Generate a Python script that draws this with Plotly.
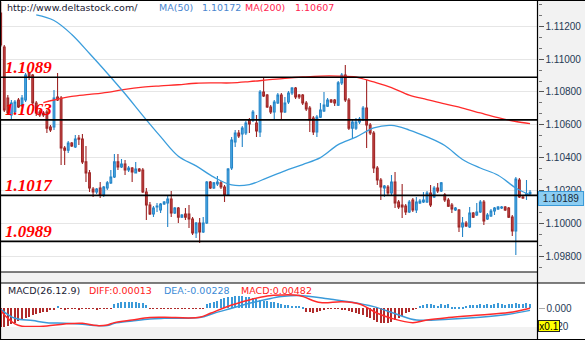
import plotly.graph_objects as go

W, H = 585, 340

# ---- price data (hourly candles) ----
opens = [
    1.11281, 1.11074, 1.10763, 1.10660, 1.10678, 1.10751, 1.10720, 1.10751, 1.10916, 1.10903,
    1.10733, 1.10678, 1.10672, 1.10678, 1.10587, 1.10587, 1.10769, 1.10763, 1.10459, 1.10446,
    1.10489, 1.10465, 1.10520, 1.10513, 1.10374, 1.10307, 1.10209, 1.10191, 1.10215, 1.10173,
    1.10215, 1.10246, 1.10282, 1.10374, 1.10343, 1.10361, 1.10325, 1.10337, 1.10307, 1.10331,
    1.10325, 1.10191, 1.10112, 1.10057, 1.10099, 1.10081, 1.10118, 1.10124, 1.10148, 1.10063,
    1.10093, 1.10038, 1.10057, 1.10057, 1.10026, 1.09941, 1.10002, 1.09947, 1.10002, 1.10252,
    1.10215, 1.10240, 1.10246, 1.10221, 1.10173, 1.10337, 1.10495, 1.10550, 1.10544, 1.10550,
    1.10629, 1.10629, 1.10611, 1.10556, 1.10800, 1.10781, 1.10708, 1.10678, 1.10733, 1.10781,
    1.10678, 1.10739, 1.10794, 1.10824, 1.10781, 1.10781, 1.10733, 1.10702, 1.10641, 1.10556,
    1.10647, 1.10684, 1.10714, 1.10751, 1.10751, 1.10720, 1.10855, 1.10903, 1.10751, 1.10580,
    1.10580, 1.10617, 1.10629, 1.10702, 1.10599, 1.10550, 1.10337, 1.10264, 1.10215, 1.10221,
    1.10185, 1.10252, 1.10130, 1.10112, 1.10105, 1.10069, 1.10142, 1.10081, 1.10124, 1.10130,
    1.10130, 1.10185, 1.10160, 1.10215, 1.10197, 1.10173, 1.10142, 1.10112, 1.10081, 1.10081,
    1.09978, 1.10002, 1.09978, 1.10063, 1.10051, 1.10069, 1.10130, 1.10026, 1.10045, 1.10075,
    1.10087, 1.10093, 1.10099, 1.10093, 1.10038, 1.09953, 1.10264, 1.10160, 1.10173, 1.10179,
]
highs = [
    1.11348, 1.11086, 1.10781, 1.10751, 1.10751, 1.10763, 1.10781, 1.10916, 1.10922, 1.10909,
    1.10745, 1.10690, 1.10684, 1.10690, 1.10599, 1.10812, 1.10916, 1.10775, 1.10471, 1.10501,
    1.10495, 1.10538, 1.10538, 1.10544, 1.10471, 1.10325, 1.10221, 1.10215, 1.10252, 1.10227,
    1.10258, 1.10325, 1.10422, 1.10422, 1.10392, 1.10386, 1.10349, 1.10343, 1.10374, 1.10337,
    1.10337, 1.10215, 1.10130, 1.10105, 1.10124, 1.10124, 1.10136, 1.10173, 1.10197, 1.10099,
    1.10099, 1.10057, 1.10093, 1.10112, 1.10038, 1.10008, 1.10032, 1.10038, 1.10258, 1.10258,
    1.10252, 1.10288, 1.10258, 1.10234, 1.10337, 1.10526, 1.10568, 1.10568, 1.10593, 1.10623,
    1.10641, 1.10690, 1.10660, 1.10812, 1.10885, 1.10788, 1.10720, 1.10751, 1.10794, 1.10794,
    1.10769, 1.10806, 1.10830, 1.10830, 1.10788, 1.10788, 1.10745, 1.10714, 1.10654, 1.10660,
    1.10733, 1.10800, 1.10763, 1.10757, 1.10757, 1.10867, 1.10916, 1.10964, 1.10763, 1.10629,
    1.10641, 1.10647, 1.10714, 1.10873, 1.10611, 1.10562, 1.10349, 1.10276, 1.10234, 1.10234,
    1.10294, 1.10313, 1.10142, 1.10240, 1.10118, 1.10142, 1.10154, 1.10160, 1.10148, 1.10191,
    1.10197, 1.10234, 1.10227, 1.10246, 1.10252, 1.10185, 1.10154, 1.10124, 1.10099, 1.10087,
    1.10038, 1.10014, 1.10099, 1.10069, 1.10124, 1.10142, 1.10142, 1.10063, 1.10087, 1.10099,
    1.10105, 1.10105, 1.10105, 1.10099, 1.10051, 1.10282, 1.10276, 1.10167, 1.10264, 1.10203,
]
lows = [
    1.11074, 1.10678, 1.10660, 1.10629, 1.10666, 1.10702, 1.10708, 1.10739, 1.10873, 1.10714,
    1.10654, 1.10647, 1.10647, 1.10550, 1.10556, 1.10568, 1.10745, 1.10355, 1.10355, 1.10428,
    1.10465, 1.10459, 1.10477, 1.10361, 1.10252, 1.10191, 1.10160, 1.10179, 1.10154, 1.10160,
    1.10203, 1.10240, 1.10276, 1.10325, 1.10337, 1.10294, 1.10313, 1.10252, 1.10307, 1.10313,
    1.10185, 1.10020, 1.10051, 1.10038, 1.10069, 1.10063, 1.10112, 1.09978, 1.10038, 1.10057,
    1.10002, 1.10032, 1.10020, 1.09971, 1.09929, 1.09911, 1.09880, 1.09941, 1.09996, 1.10209,
    1.10209, 1.10227, 1.10209, 1.10130, 1.10167, 1.10325, 1.10465, 1.10520, 1.10465, 1.10538,
    1.10550, 1.10617, 1.10526, 1.10526, 1.10769, 1.10702, 1.10666, 1.10629, 1.10727, 1.10629,
    1.10672, 1.10727, 1.10781, 1.10757, 1.10757, 1.10720, 1.10684, 1.10556, 1.10538, 1.10526,
    1.10641, 1.10678, 1.10708, 1.10733, 1.10714, 1.10714, 1.10842, 1.10739, 1.10568, 1.10520,
    1.10568, 1.10605, 1.10623, 1.10459, 1.10538, 1.10307, 1.10234, 1.10142, 1.10160, 1.10173,
    1.10173, 1.10093, 1.10087, 1.10032, 1.10051, 1.10063, 1.10069, 1.10063, 1.10118, 1.10124,
    1.10124, 1.10099, 1.10154, 1.10185, 1.10191, 1.10130, 1.10099, 1.10063, 1.10075, 1.09947,
    1.09917, 1.09978, 1.09971, 1.10032, 1.10045, 1.10063, 1.09990, 1.10020, 1.10038, 1.10051,
    1.10081, 1.10087, 1.10075, 1.10032, 1.09923, 1.09807, 1.10154, 1.10148, 1.10142, 1.10173,
]
closes = [
    1.11086, 1.10690, 1.10672, 1.10733, 1.10739, 1.10708, 1.10763, 1.10903, 1.10891, 1.10733,
    1.10672, 1.10660, 1.10660, 1.10580, 1.10568, 1.10763, 1.10751, 1.10459, 1.10446, 1.10489,
    1.10471, 1.10513, 1.10513, 1.10374, 1.10307, 1.10215, 1.10191, 1.10209, 1.10173, 1.10221,
    1.10246, 1.10282, 1.10374, 1.10343, 1.10361, 1.10325, 1.10337, 1.10313, 1.10331, 1.10319,
    1.10191, 1.10112, 1.10057, 1.10093, 1.10105, 1.10118, 1.10130, 1.10148, 1.10063, 1.10093,
    1.10038, 1.10051, 1.10038, 1.10026, 1.09941, 1.10002, 1.09947, 1.10002, 1.10252, 1.10215,
    1.10246, 1.10252, 1.10221, 1.10173, 1.10331, 1.10507, 1.10550, 1.10532, 1.10580, 1.10611,
    1.10605, 1.10678, 1.10562, 1.10800, 1.10775, 1.10708, 1.10678, 1.10739, 1.10781, 1.10678,
    1.10733, 1.10794, 1.10824, 1.10769, 1.10769, 1.10733, 1.10696, 1.10629, 1.10556, 1.10647,
    1.10690, 1.10720, 1.10751, 1.10739, 1.10733, 1.10855, 1.10903, 1.10751, 1.10580, 1.10617,
    1.10617, 1.10635, 1.10702, 1.10599, 1.10550, 1.10337, 1.10264, 1.10221, 1.10227, 1.10185,
    1.10252, 1.10124, 1.10099, 1.10099, 1.10069, 1.10130, 1.10081, 1.10130, 1.10136, 1.10142,
    1.10185, 1.10112, 1.10215, 1.10197, 1.10246, 1.10142, 1.10105, 1.10087, 1.10093, 1.09978,
    1.10002, 1.09984, 1.10063, 1.10038, 1.10069, 1.10130, 1.10014, 1.10051, 1.10075, 1.10093,
    1.10099, 1.10099, 1.10081, 1.10038, 1.09953, 1.10270, 1.10160, 1.10154, 1.10179, 1.10189,
]
candle_idx = list(range(len(closes)))

# moving averages (sampled along the bar index)
ma50_idx = [10, 15, 20, 25, 30, 35, 40, 45, 50, 55, 60, 65, 70, 75, 80, 85, 90, 95, 100,
            105, 110, 115, 120, 125, 130, 135, 140, 145, 149]
ma50_val = [1.11269, 1.11235, 1.11150, 1.11034, 1.10914, 1.10789, 1.10656, 1.10528, 1.10409,
            1.10350, 1.10281, 1.10234, 1.10236, 1.10277, 1.10319, 1.10358, 1.10400, 1.10479,
            1.10525, 1.10581, 1.10596, 1.10568, 1.10526, 1.10474, 1.10389, 1.10337, 1.10293,
            1.10215, 1.10172]
ma200_idx = [12, 15, 20, 25, 30, 35, 40, 45, 50, 55, 60, 65, 70, 75, 80, 85, 90, 95, 100,
             103, 105, 110, 115, 120, 125, 130, 135, 140, 145, 149]
ma200_val = [1.10735, 1.10751, 1.10773, 1.10785, 1.10798, 1.10816, 1.10829, 1.10837, 1.10844,
             1.10853, 1.10855, 1.10855, 1.10863, 1.10873, 1.10883, 1.10891, 1.10897, 1.10897,
             1.10891, 1.10873, 1.10861, 1.10827, 1.10781, 1.10754, 1.10727, 1.10702, 1.10672,
             1.10643, 1.10620, 1.10607]

# support / resistance levels
levels = [1.1089, 1.1063, 1.1017, 1.0989]
level_labels = ["1.1089", "1.1063", "1.1017", "1.0989"]

price_ticks = [1.098, 1.100, 1.102, 1.104, 1.106, 1.108, 1.110, 1.112]
price_tick_text = ["1.09800", "1.10000", "1.10200", "1.10400", "1.10600", "1.10800",
                   "1.11000", "1.11200"]
last_price = 1.10189
last_price_text = "1.10189"
ma50_last, ma200_last = "1.10172", "1.10607"

# ---- MACD(26,12,9) panel ----
macd_hist = [
    -0.0199, -0.0199, -0.0192, -0.0174, -0.0156, -0.0134, -0.0119, -0.0109, -0.0091, -0.0076,
    -0.0065, -0.0054, -0.0043, -0.0036, -0.0018, -0.0011, 0.0025,
    -0.0007, -0.0011, -0.0007, -0.0004, -0.0007, -0.0011, -0.0007, -0.0004, -0.0007, -0.0007,
    -0.0011, -0.0007, -0.0004, -0.0007, -0.0004,
    0.0047, 0.0062, 0.0069, 0.0072, 0.0072, 0.0072, 0.0069, 0.0062, 0.0054, 0.0040,
    -0.0004, -0.0007, -0.0004, -0.0007, -0.0004, -0.0004, -0.0007, -0.0004, -0.0007, -0.0004,
    -0.0004, -0.0007, -0.0004, -0.0004, -0.0007, -0.0004,
    0.0047, 0.0054, 0.0069, 0.0083, 0.0098, 0.0109, 0.0119, 0.0127, 0.0130, 0.0134,
    0.0134, 0.0127, 0.0119, 0.0109, 0.0098, 0.0091, 0.0083, 0.0076, 0.0072, 0.0065,
    0.0054, 0.0047, 0.0040, 0.0033, 0.0029, 0.0025, 0.0022, 0.0018,
    -0.0036, -0.0043, -0.0047, -0.0040, -0.0029, -0.0011, -0.0007, -0.0004, -0.0004, -0.0007,
    -0.0011, -0.0018, -0.0029,
    -0.0036, -0.0054, -0.0062, -0.0072, -0.0091, -0.0109, -0.0127, -0.0145, -0.0156, -0.0163,
    -0.0156, -0.0145, -0.0127, -0.0109, -0.0083, -0.0054, -0.0036, -0.0018, -0.0004,
    0.0025, 0.0036, 0.0043, 0.0047, 0.0036, 0.0025, 0.0043, 0.0036, 0.0047, 0.0018,
    0.0007, 0.0004, 0.0011, 0.0025, 0.0036, 0.0033, 0.0040, 0.0047, 0.0040, 0.0047,
    0.0036, 0.0047, 0.0054, 0.0047, 0.0040, 0.0047, 0.0051, 0.0054, 0.0047, 0.0051,
    0.0054, 0.00482,
]
diff_idx = [0, 2, 4, 6, 9, 13, 18, 23, 27, 30, 32, 37, 42, 46, 56, 59, 65, 70, 75, 79, 84,
            90, 96, 101, 106, 110, 116, 120, 126, 135, 143, 149]
diff_val = [-0.0025, -0.0110, -0.0170, -0.0195, -0.0199, -0.0192, -0.0170, -0.0163, -0.0188,
            -0.0181, -0.0156, -0.0127, -0.0101, -0.0098, -0.0098, -0.0054, 0.0036, 0.0091,
            0.0134, 0.0145, 0.0138, 0.0062, 0.0072, 0.0047, -0.0054, -0.0109, -0.0156,
            -0.0127, -0.0101, -0.0072, -0.0047, 0.00013]
dea_idx = [0, 4, 9, 13, 18, 23, 27, 30, 32, 37, 42, 46, 56, 60, 65, 70, 75, 79, 84, 93, 98,
           105, 112, 117, 126, 135, 143, 149]
dea_val = [-0.0011, -0.0109, -0.0134, -0.0156, -0.0163, -0.0174, -0.0188, -0.0188, -0.0163,
           -0.0138, -0.0116, -0.0109, -0.0101, -0.0054, 0.0000, 0.0054, 0.0098, 0.0127,
           0.0140, 0.0098, 0.0072, 0.0018, -0.0072, -0.0127, -0.0119, -0.0098, -0.0065,
           -0.00228]
macd_ticks = [0.0]
macd_tick_text = ["0.000"]
macd_low_label, macd_low_value = "-0.020", -0.02
diff_last, dea_last, macd_last = "0.00013", "-0.00228", "0.00482"

# colours
UP_FILL, UP_LINE = "#4eaee8", "#2585c8"
DN_FILL, DN_LINE = "#c94545", "#9e2626"
MA50_C, MA200_C = "#3a9ddc", "#ff2a2a"
GREY = "#f2f2f2"


def xp(px):
    return px / W


def yp(py):
    return 1 - py / H


PLOT_RIGHT = 537.5
fig = go.Figure()

fig.add_trace(go.Candlestick(
    x=candle_idx, open=opens, high=highs, low=lows, close=closes,
    increasing=dict(line=dict(color=UP_LINE, width=1.1), fillcolor=UP_FILL),
    decreasing=dict(line=dict(color=DN_LINE, width=1.1), fillcolor=DN_FILL),
    whiskerwidth=0, showlegend=False, xaxis="x", yaxis="y",
))
fig.add_trace(go.Scatter(x=ma200_idx, y=ma200_val, mode="lines",
                         line=dict(color=MA200_C, width=1.3, shape="spline"),
                         showlegend=False, xaxis="x", yaxis="y"))
fig.add_trace(go.Scatter(x=ma50_idx, y=ma50_val, mode="lines",
                         line=dict(color=MA50_C, width=1.3, shape="spline"),
                         showlegend=False, xaxis="x", yaxis="y"))

bar_colors = ["#3b9ad9" if v >= 0 else "#b02b2b" for v in macd_hist]
fig.add_trace(go.Bar(x=list(range(len(macd_hist))), y=macd_hist, width=0.3,
                     marker=dict(color=bar_colors, line=dict(width=0)),
                     showlegend=False, xaxis="x", yaxis="y2"))
fig.add_trace(go.Scatter(x=dea_idx, y=dea_val, mode="lines",
                         line=dict(color="#3a9ad9", width=1.5, shape="spline"),
                         showlegend=False, xaxis="x", yaxis="y2"))
fig.add_trace(go.Scatter(x=diff_idx, y=diff_val, mode="lines",
                         line=dict(color="#ff2a2a", width=1.5, shape="spline"),
                         showlegend=False, xaxis="x", yaxis="y2"))

shapes = []
# right axis strip background
shapes.append(dict(type="rect", xref="paper", yref="paper", x0=xp(PLOT_RIGHT), x1=1,
                   y0=yp(283), y1=1, fillcolor=GREY, line=dict(width=0), layer="below"))
# horizontal levels
for lv in levels:
    shapes.append(dict(type="line", xref="paper", yref="y", x0=0, x1=xp(PLOT_RIGHT),
                       y0=lv, y1=lv, line=dict(color="#000000", width=1.6), layer="above"))
# separator strips
shapes.append(dict(type="rect", xref="paper", yref="paper", x0=0, x1=1, y0=yp(283),
                   y1=yp(272), fillcolor=GREY, line=dict(width=0), layer="above"))
shapes.append(dict(type="rect", xref="paper", yref="paper", x0=0, x1=xp(PLOT_RIGHT),
                   y0=yp(339), y1=yp(327), fillcolor=GREY, line=dict(width=0), layer="above"))
# frame lines
frame = [
    (0, yp(0.5), 1, yp(0.5)),
    (xp(0.5), 0, xp(0.5), 1),
    (xp(PLOT_RIGHT), 0, xp(PLOT_RIGHT), 1),
    (0, yp(272), xp(PLOT_RIGHT), yp(272)),
    (0, yp(283), 1, yp(283)),
    (0, yp(339.5), 1, yp(339.5)),
]
for x0, y0, x1, y1 in frame:
    shapes.append(dict(type="line", xref="paper", yref="paper", x0=x0, y0=y0, x1=x1, y1=y1,
                       line=dict(color="#000000", width=1.2), layer="above"))

annotations = []
for lv, txt in zip(levels, level_labels):
    annotations.append(dict(xref="paper", yref="y", x=xp(3), y=lv, xanchor="left",
                            yanchor="middle", yshift=10, showarrow=False,
                            text="<b><i>" + txt + "</i></b>",
                            font=dict(family="Liberation Serif", size=17, color="#ff0000")))

header_font = "DejaVu Sans"
header = [
    (5, "http://www.deltastock.com/", "#1a1a33", 7),
    (157, "MA(50)", "#4a86cf", 7),
    (200, ma50_last, "#4a86cf", 7),
    (243, "MA(200)", "#ff2450", 7),
    (293, ma200_last, "#ff2450", 7),
    (6, "MACD(26.12.9)", "#1a1a33", 290),
    (87, "DIFF:" + diff_last, "#ff2020", 290),
    (162, "DEA:" + dea_last, "#3a8ad6", 290),
    (239, "MACD:" + macd_last, "#ff2020", 290),
]
for x, txt, col, y in header:
    annotations.append(dict(xref="paper", yref="paper", x=xp(x), y=yp(y), xanchor="left",
                            yanchor="middle", showarrow=False, text=txt,
                            font=dict(family=header_font, size=9.5, color=col)))

# last price tag on the axis
annotations.append(dict(xref="paper", yref="y", x=xp(538), y=last_price, xanchor="left",
                        yanchor="middle", yshift=-6, showarrow=False, text=last_price_text,
                        bgcolor="#8ccdf2", bordercolor="#3a9ad8", borderwidth=1, borderpad=1,
                        width=42, font=dict(family="Liberation Sans", size=10, color="#1a2a3a")))
# lower MACD scale label, partly under the scale-factor tag
annotations.append(dict(xref="paper", yref="y2", x=xp(571), y=macd_low_value,
                        xanchor="right", yanchor="middle", showarrow=False,
                        text=macd_low_label,
                        font=dict(family="Liberation Sans", size=10, color="#253a55")))
annotations.append(dict(xref="paper", yref="paper", x=xp(537.5), y=yp(325.5), xanchor="left",
                        yanchor="middle", showarrow=False, text="x0.1",
                        bgcolor="#ffff00", bordercolor="#222222", borderwidth=1, borderpad=0,
                        width=20, height=10,
                        font=dict(family="Liberation Sans", size=10, color="#000000")))

fig.update_layout(
    width=W, height=H, margin=dict(l=0, r=0, t=0, b=0),
    paper_bgcolor="#ffffff", plot_bgcolor="#ffffff",
    showlegend=False, bargap=0,
    xaxis=dict(domain=[0, xp(PLOT_RIGHT)], range=[-0.2, 151.1], showticklabels=False,
               showgrid=False, zeroline=False, ticks="", rangeslider=dict(visible=False),
               fixedrange=True),
    yaxis=dict(domain=[yp(272), 1], range=[1.1136 - 272 * 0.0000609, 1.1136], side="right",
               anchor="x", tickvals=price_ticks, ticktext=price_tick_text,
               ticks="outside", ticklen=5, tickcolor="#555555",
               minor=dict(dtick=0.002 / 3, tick0=1.098, ticks="outside", ticklen=3,
                          tickcolor="#777777", showgrid=False),
               showgrid=True, gridcolor="#e6e6e6", gridwidth=1, zeroline=False,
               tickfont=dict(family="Liberation Sans", size=10, color="#253a55")),
    yaxis2=dict(domain=[yp(339), yp(283)], range=[-0.0334, 0.0275], side="right",
                anchor="x", tickvals=macd_ticks, ticktext=macd_tick_text,
                ticks="outside", ticklen=6, tickcolor="#aaaaaa", showgrid=False,
                zeroline=False,
                tickfont=dict(family="Liberation Sans", size=10, color="#253a55")),
    shapes=shapes, annotations=annotations,
)

fig.write_html("out.html")
